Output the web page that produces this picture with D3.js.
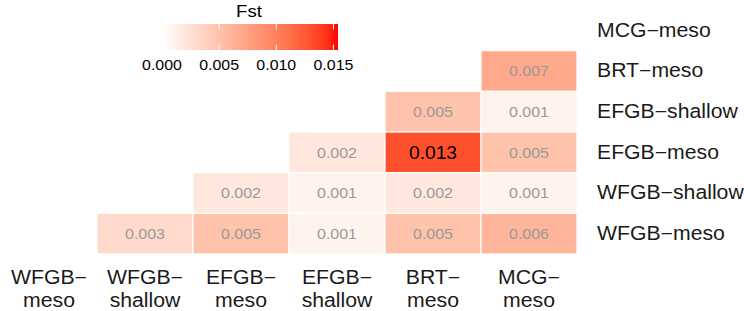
<!DOCTYPE html>
<html><head><meta charset="utf-8">
<script src="https://cdn.jsdelivr.net/npm/d3@7"></script>
<style>body{margin:0;background:#fff}svg{display:block}text{font-family:"Liberation Sans",Arial,sans-serif}</style>
</head><body><svg id="c" width="744" height="311"></svg>
<script>
const cols = ["WFGB-meso","WFGB-shallow","EFGB-meso","EFGB-shallow","BRT-meso","MCG-meso"];
const rows = ["MCG-meso","BRT-meso","EFGB-shallow","EFGB-meso","WFGB-shallow","WFGB-meso"];
const rowA = ["BRT-meso","EFGB-shallow","EFGB-shallow","EFGB-meso","EFGB-meso","EFGB-meso","WFGB-shallow","WFGB-shallow","WFGB-shallow","WFGB-shallow","WFGB-meso","WFGB-meso","WFGB-meso","WFGB-meso","WFGB-meso"];
const colB = ["MCG-meso","BRT-meso","MCG-meso","EFGB-shallow","BRT-meso","MCG-meso","EFGB-meso","EFGB-shallow","BRT-meso","MCG-meso","WFGB-shallow","EFGB-meso","EFGB-shallow","BRT-meso","MCG-meso"];
const fst = [0.007,0.005,0.001,0.002,0.013,0.005,0.002,0.001,0.002,0.001,0.003,0.005,0.001,0.005,0.006];
const legendTicks = [0,0.005,0.010,0.015];
const fillMax = 0.0154;

const SX = 1.1; // horizontal stretch of glyphs in the reference
const svg = d3.select("#c");
const dash = s => s.replace("-", "\u2212");
const x = d3.scaleBand().domain(cols).range([1,577]);
const y = d3.scaleBand().domain(rows).range([10,254]);
const color = d3.scaleLinear().domain([0,fillMax]).range(["#ffffff","#ff0000"]).interpolate(d3.interpolateLab);

function label(parent, px, py, txt, size, fill, anchor){
  parent.append("g").attr("transform",`translate(${px},${py}) scale(${SX},1)`)
    .append("text").attr("text-anchor",anchor||"start").attr("font-size",size).attr("fill",fill).text(txt);
}

const cells = fst.map((v,i)=>({r:rowA[i],c:colB[i],v}));
svg.append("g").selectAll("rect").data(cells).join("rect")
  .attr("x",d=>x(d.c)).attr("y",d=>y(d.r))
  .attr("width",x.bandwidth()).attr("height",y.bandwidth())
  .attr("fill",d=>color(d.v)).attr("stroke","#fff").attr("stroke-width",1.2);
const big = d3.max(fst);
const cg = svg.append("g");
cells.forEach(d=>{
  const s = d.v===big?17.5:14.5;
  label(cg, x(d.c)+x.bandwidth()/2, y(d.r)+y.bandwidth()/2+s*0.36, d3.format(".3f")(d.v), s, d.v===big?"#000":"#999","middle");
});

// right labels
const rg = svg.append("g");
rows.forEach(r=>label(rg, 597, y(r)+y.bandwidth()/2+6.2, dash(r), 19.3, "#1a1a1a"));
// bottom labels
const bg = svg.append("g");
cols.forEach(c=>{
  const parts = dash(c).split("\u2212");
  const cx = x(c)+x.bandwidth()/2;
  label(bg, cx, 284, parts[0]+"\u2212", 19.3, "#1a1a1a", "middle");
  label(bg, cx, 307, parts[1], 19.3, "#1a1a1a", "middle");
});

// legend
const lx = d3.scaleLinear().domain([0,fillMax]).range([162,338]);
const defs = svg.append("defs");
const grad = defs.append("linearGradient").attr("id","g");
d3.range(0,1.0001,0.05).forEach(t=>grad.append("stop").attr("offset",t).attr("stop-color",color(t*fillMax)));
svg.append("rect").attr("x",lx(0)).attr("y",24).attr("width",lx(fillMax)-lx(0)).attr("height",26).attr("fill","url(#g)");
legendTicks.forEach(t=>{
  svg.append("line").attr("x1",lx(t)).attr("x2",lx(t)).attr("y1",24).attr("y2",29.5).attr("stroke","#fff").attr("stroke-width",1);
  svg.append("line").attr("x1",lx(t)).attr("x2",lx(t)).attr("y1",44.5).attr("y2",50).attr("stroke","#fff").attr("stroke-width",1);
});
const lg = svg.append("g");
legendTicks.forEach(t=>label(lg, lx(t), 70, d3.format(".3f")(t), 14.5, "#000", "middle"));
label(lg, 249, 17, "Fst", 17, "#000", "middle");
</script></body></html>
